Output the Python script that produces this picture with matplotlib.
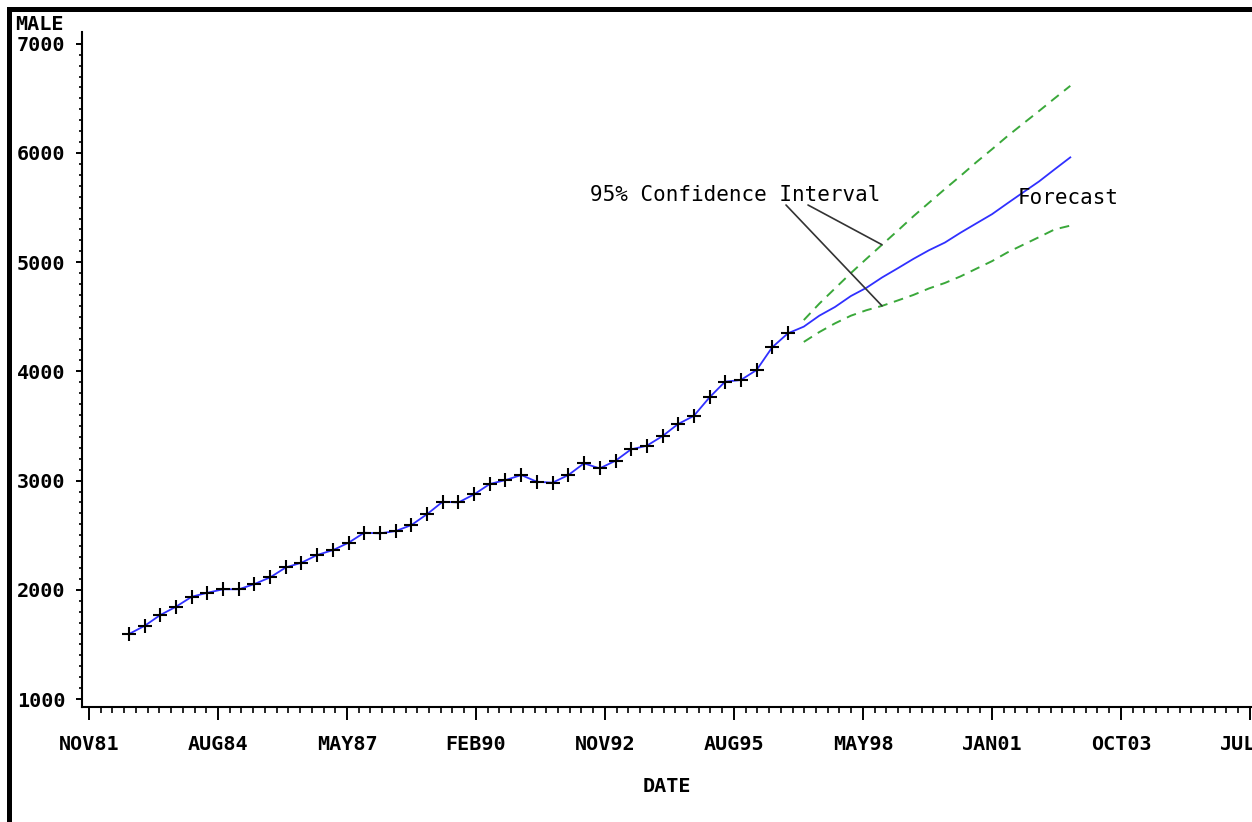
import numpy as np
import pandas as pd
import matplotlib
matplotlib.use('Agg')
from matplotlib import pyplot as plt
from matplotlib.patches import Rectangle

# observed series (every 4 months) and forecast with 95% limits
obs_start = '1982-10-01'
male = [1595, 1671, 1769, 1845, 1937, 1973, 2005, 2005, 2053, 2114,
        2206, 2248, 2319, 2364, 2431, 2523, 2517, 2538, 2593, 2694,
        2807, 2800, 2875, 2969, 3005, 3051, 2990, 2981, 3051, 3158,
        3112, 3182, 3286, 3319, 3408, 3518, 3592, 3763, 3906, 3921,
        4013, 4221, 4349]
forecast = [4410, 4510, 4590, 4690, 4765, 4860, 4945, 5030, 5110,
            5180, 5270, 5355, 5440, 5540, 5640, 5740, 5850, 5960]
upper = [4470, 4620, 4760, 4900, 5030, 5160, 5290, 5420, 5545,
         5670, 5790, 5915, 6035, 6155, 6270, 6385, 6500, 6615]
lower = [4270, 4360, 4440, 4510, 4560, 4600, 4650, 4700, 4760,
         4810, 4870, 4940, 5010, 5090, 5160, 5230, 5300, 5335]

tick_labels = ['NOV81', 'AUG84', 'MAY87', 'FEB90', 'NOV92',
               'AUG95', 'MAY98', 'JAN01', 'OCT03', 'JUL06']
ytick_vals = [1000, 2000, 3000, 4000, 5000, 6000, 7000]

dates = pd.date_range(obs_start, periods=len(male) + len(forecast), freq='4MS')
obs_dates = dates[:len(male)]
fc_dates = dates[len(male):]

# x ticks every 1001 days, minor every 91
tick0 = np.datetime64('1981-11-25')
major = tick0 + np.arange(len(tick_labels)) * np.timedelta64(1001, 'D')
minor = tick0 + np.arange(0, 100) * np.timedelta64(91, 'D')

mono = 'DejaVu Sans Mono'

fig = plt.figure(figsize=(12.52, 8.22), dpi=100)
ax = fig.add_axes([82 / 1252, 1 - 707 / 822, 1 - 82 / 1252, (707 - 32) / 822])

ax.plot(obs_dates, male, color='#3030ff', lw=1.3, zorder=3)
ax.plot([obs_dates[-1]] + list(fc_dates), [male[-1]] + forecast,
        color='#3030ff', lw=1.3, zorder=3)
ax.plot(fc_dates, upper, color='#3aa83a', lw=1.4, ls=(0, (5, 3.5)))
ax.plot(fc_dates, lower, color='#3aa83a', lw=1.4, ls=(0, (5, 3.5)))
ax.plot(obs_dates, male, ls='none', marker='+', ms=10, mew=1.5,
        color='black', zorder=4)

ax.set_xticks(major)
ax.set_xticklabels(tick_labels)
ax.set_xticks(minor[minor <= major[-1]], minor=True)
ax.set_yticks(ytick_vals)
ax.set_yticks(np.arange(1000, 7100, 100), minor=True)

# limits after the ticks so set_xticks does not widen them
ax.set_xlim(tick0 - np.timedelta64(54, 'D'), tick0 + np.timedelta64(9025, 'D'))
ax.set_ylim(927, 7108)

for s in ['top', 'right']:
    ax.spines[s].set_visible(False)
for s in ['left', 'bottom']:
    ax.spines[s].set_linewidth(1.5)

ax.tick_params(axis='x', which='major', length=9, width=1.4, pad=11)
ax.tick_params(axis='x', which='minor', length=4, width=1.2)
ax.tick_params(axis='y', which='major', length=4, width=1.4, pad=8)
ax.tick_params(axis='y', which='minor', length=2.5, width=1.2)
for lab in ax.get_xticklabels() + ax.get_yticklabels():
    lab.set_fontfamily(mono)
    lab.set_fontweight('bold')
    lab.set_fontsize(14.5)

fig.text(15 / 1252, 1 - 24 / 822, 'MALE', family=mono, weight='bold',
         fontsize=14.5, va='center', ha='left')
fig.text(667 / 1252, 1 - 786 / 822, 'DATE', family=mono, weight='bold',
         fontsize=14.5, va='center', ha='center')

fig.text(590 / 1252, 1 - 195 / 822, '95% Confidence Interval', family=mono,
         fontsize=15, va='center', ha='left')
fig.text(1018 / 1252, 1 - 198 / 822, 'Forecast', family=mono,
         fontsize=15, va='center', ha='left')

# pointer lines from the label to the two limit curves
ax.annotate('', xy=(fc_dates[5], upper[5]), xytext=(808, 822 - 205),
            textcoords='figure pixels',
            arrowprops=dict(arrowstyle='-', color='#333333', lw=1.2,
                            shrinkA=0, shrinkB=0))
ax.annotate('', xy=(fc_dates[5], lower[5]), xytext=(786, 822 - 205),
            textcoords='figure pixels',
            arrowprops=dict(arrowstyle='-', color='#333333', lw=1.2,
                            shrinkA=0, shrinkB=0))

# black frame on top and left
fig.add_artist(Rectangle((7 / 1252, 1 - 12 / 822), 1, 5 / 822,
                         transform=fig.transFigure, color='black', lw=0))
fig.add_artist(Rectangle((7 / 1252, 0), 5 / 1252, 1 - 7 / 822,
                         transform=fig.transFigure, color='black', lw=0))

fig.savefig('out.png', dpi=100)
